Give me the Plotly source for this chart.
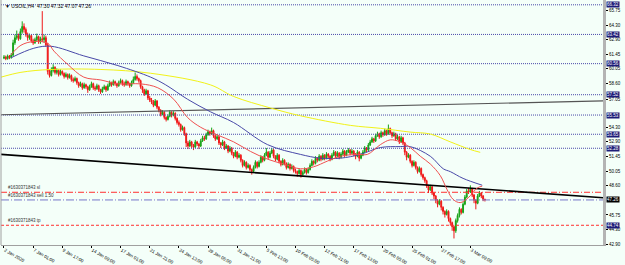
import plotly.graph_objects as go

# ---------------- data ----------------
first_open = 61.10
close = [
    61.20, 61.05, 61.30, 61.15, 61.40, 62.60, 63.10, 63.30, 63.00, 63.70,
    64.20, 63.90, 63.40, 63.10, 63.30, 62.80, 62.60, 62.90, 63.20, 62.70,
    63.00, 62.90, 63.10, 62.40, 59.80, 59.40, 59.90, 60.20, 59.70, 59.90,
    59.50, 59.80, 59.60, 59.30, 59.50, 59.20, 59.40, 59.00, 58.90, 59.10,
    58.70, 58.40, 58.60, 58.20, 58.50, 58.30, 58.00, 58.30, 58.60, 58.20,
    58.10, 58.40, 58.00, 57.80, 58.10, 58.30, 58.00, 58.40, 58.70, 58.50,
    58.80, 58.60, 58.40, 58.70, 58.90, 58.60, 58.50, 58.80, 58.60, 58.40,
    58.70, 59.00, 59.30, 59.10, 58.90, 58.30, 58.00, 57.60, 57.90, 57.20,
    57.00, 56.80, 56.50, 56.90, 56.30, 56.00, 55.60, 55.80, 55.30, 55.10,
    55.40, 55.80, 55.50, 55.70, 55.20, 54.80, 54.60, 54.10, 54.30, 53.70,
    52.80, 52.50, 52.90, 52.60, 52.40, 52.90, 52.70, 52.50, 53.00, 53.30,
    53.20, 53.60, 53.90, 53.70, 54.00, 53.50, 53.20, 53.40, 52.80, 52.60,
    52.90, 52.30, 52.50, 52.00, 52.30, 51.80, 51.50, 51.90, 51.40, 51.60,
    51.10, 50.60, 50.90, 50.40, 50.60, 50.20, 50.00, 50.40, 50.90, 50.50,
    50.90, 51.40, 51.10, 51.60, 51.90, 51.40, 51.80, 52.10, 51.50, 51.20,
    51.60, 51.00, 50.70, 51.10, 50.80, 50.40, 50.70, 50.30, 50.50, 50.10,
    50.00, 49.80, 50.10, 49.70, 49.90, 50.20, 49.90, 50.20, 50.60, 51.00,
    50.80, 51.30, 51.10, 51.50, 51.20, 51.60, 51.30, 51.70, 51.50, 51.20,
    51.60, 51.90, 51.50, 51.80, 51.40, 51.70, 52.00, 51.60, 51.90, 52.10,
    51.80, 52.00, 51.70, 51.50, 51.90, 51.30, 51.60, 51.90, 52.30, 52.10,
    52.60, 52.90, 53.20, 53.00, 53.50, 53.70, 53.40, 53.80, 53.60, 54.00,
    53.70, 54.20, 53.80, 53.50, 53.70, 53.20, 53.40, 52.90, 53.30, 52.80,
    51.90, 51.40, 51.60, 51.00, 50.60, 50.90, 50.40, 50.00, 50.30, 49.70,
    49.40, 49.10, 48.60, 48.20, 48.50, 47.90, 47.60, 47.20, 46.80, 47.10,
    46.50, 46.10, 45.80, 46.10, 45.40, 45.00, 44.60, 44.20, 45.20, 45.70,
    46.30, 46.00, 46.80, 47.50, 48.10, 48.00, 48.30, 47.70, 47.20, 46.90,
    47.60, 47.90, 47.60, 47.30, 47.26,
]
high = [
    61.40, 61.35, 61.45, 61.40, 61.60, 62.90, 63.40, 63.80, 63.50, 64.00,
    64.70, 64.50, 64.10, 63.60, 63.50, 63.40, 63.00, 63.10, 63.50, 63.30,
    63.20, 65.70, 63.40, 63.30, 62.60, 60.00, 60.20, 60.50, 60.30, 60.10,
    60.00, 60.00, 59.90, 59.70, 59.70, 59.60, 59.60, 59.50, 59.20, 59.30,
    59.20, 58.80, 58.80, 58.70, 58.70, 58.60, 58.40, 58.50, 58.80, 58.70,
    58.40, 58.60, 58.50, 58.10, 58.30, 58.50, 58.40, 58.60, 58.90, 58.80,
    59.00, 58.90, 58.70, 58.90, 59.10, 59.00, 58.80, 59.00, 58.90, 58.70,
    58.90, 59.30, 59.70, 59.50, 59.20, 59.00, 58.40, 58.10, 58.10, 58.00,
    57.40, 57.20, 57.00, 57.10, 57.00, 56.40, 56.10, 56.00, 55.90, 55.40,
    55.60, 56.00, 55.90, 55.90, 55.80, 55.30, 55.00, 54.70, 54.50, 54.40,
    53.80, 53.00, 53.10, 53.00, 52.70, 53.10, 53.00, 52.80, 53.20, 53.50,
    53.50, 53.80, 54.10, 54.00, 54.30, 54.10, 53.60, 53.60, 53.50, 52.90,
    53.10, 53.00, 52.70, 52.60, 52.50, 52.40, 51.90, 52.10, 52.00, 51.80,
    51.70, 51.20, 51.10, 51.00, 50.80, 50.70, 50.30, 50.60, 51.10, 51.00,
    51.10, 51.60, 51.50, 51.80, 52.30, 52.00, 52.00, 52.30, 52.20, 51.60,
    51.80, 51.70, 51.10, 51.30, 51.20, 50.90, 50.90, 50.80, 50.70, 50.60,
    50.30, 50.10, 50.30, 50.20, 50.10, 50.40, 50.30, 50.40, 50.80, 51.20,
    51.10, 51.50, 51.40, 51.70, 51.60, 51.80, 51.70, 51.90, 51.80, 51.60,
    51.80, 52.10, 52.00, 52.00, 51.90, 51.90, 52.20, 52.10, 52.10, 52.30,
    52.20, 52.20, 52.10, 51.80, 52.10, 52.00, 51.80, 52.10, 52.50, 52.40,
    52.80, 53.10, 53.40, 53.30, 53.70, 53.90, 53.80, 54.00, 53.90, 54.20,
    54.10, 54.60, 54.30, 53.90, 53.90, 53.80, 53.60, 53.50, 53.50, 53.40,
    52.90, 52.00, 51.80, 51.70, 51.10, 51.10, 51.00, 50.50, 50.50, 50.40,
    49.80, 49.50, 49.20, 48.70, 48.70, 48.60, 48.00, 47.70, 47.30, 47.30,
    47.20, 46.60, 46.20, 46.30, 46.20, 45.50, 45.10, 44.70, 45.40, 45.90,
    46.50, 46.40, 47.00, 47.70, 48.30, 48.40, 48.65, 48.40, 47.80, 47.30,
    47.80, 48.10, 48.00, 47.70, 47.32,
]
low = [
    61.00, 60.90, 60.95, 61.00, 61.05, 61.30, 62.40, 62.90, 62.80, 62.90,
    63.50, 63.60, 63.20, 62.80, 62.90, 62.60, 62.40, 62.50, 62.70, 62.50,
    62.50, 62.70, 62.60, 62.20, 59.50, 59.20, 59.30, 59.70, 59.50, 59.50,
    59.30, 59.40, 59.40, 59.10, 59.20, 59.00, 59.10, 58.80, 58.70, 58.80,
    58.50, 58.20, 58.30, 58.00, 58.10, 58.10, 57.70, 57.90, 58.20, 58.00,
    57.90, 58.00, 57.80, 57.60, 57.70, 58.00, 57.80, 57.90, 58.30, 58.30,
    58.40, 58.40, 58.20, 58.30, 58.60, 58.40, 58.30, 58.40, 58.40, 58.20,
    58.30, 58.60, 58.90, 58.90, 58.70, 58.10, 57.70, 57.40, 57.50, 57.00,
    56.80, 56.60, 56.30, 56.40, 56.10, 55.80, 55.40, 55.50, 55.10, 54.90,
    55.00, 55.30, 55.30, 55.40, 55.00, 54.60, 54.40, 53.90, 54.00, 53.50,
    52.40, 52.20, 52.40, 52.30, 52.10, 52.30, 52.50, 52.20, 52.40, 52.90,
    53.00, 53.10, 53.50, 53.50, 53.60, 53.30, 53.00, 53.10, 52.60, 52.30,
    52.50, 52.10, 52.20, 51.80, 51.90, 51.60, 51.30, 51.40, 51.20, 51.30,
    50.90, 50.40, 50.50, 50.20, 50.30, 50.00, 49.70, 49.90, 50.30, 50.30,
    50.40, 50.80, 50.90, 51.00, 51.50, 51.20, 51.30, 51.70, 51.30, 51.00,
    51.10, 50.80, 50.50, 50.60, 50.60, 50.20, 50.30, 50.10, 50.20, 49.90,
    49.80, 49.50, 49.70, 49.40, 49.60, 49.80, 49.70, 49.80, 50.10, 50.50,
    50.60, 50.70, 50.90, 51.00, 51.00, 51.10, 51.10, 51.20, 51.30, 51.00,
    51.10, 51.50, 51.30, 51.40, 51.20, 51.30, 51.60, 51.40, 51.50, 51.80,
    51.60, 51.70, 51.50, 51.20, 51.40, 51.00, 51.20, 51.50, 51.80, 51.90,
    52.00, 52.50, 52.80, 52.80, 52.90, 53.40, 53.20, 53.30, 53.40, 53.50,
    53.50, 53.60, 53.60, 53.30, 53.40, 53.00, 53.10, 52.70, 52.80, 52.60,
    51.60, 51.10, 51.30, 50.80, 50.40, 50.50, 50.20, 49.80, 49.90, 49.50,
    49.20, 48.90, 48.40, 47.90, 48.10, 47.70, 47.30, 46.90, 46.50, 46.70,
    46.20, 45.80, 45.50, 45.70, 45.10, 44.70, 44.20, 43.45, 44.00, 45.00,
    45.50, 45.80, 45.90, 46.70, 47.40, 47.80, 47.90, 47.50, 46.90, 46.30,
    46.80, 47.50, 47.40, 47.10, 47.07,
]

# moving averages read at sample bars
ma_red_x = [3.8, 9.3, 16.4, 24.1, 27.4, 35.1, 43.8, 53.2, 62.5, 75.1, 84.4, 93.2, 100.8, 108,
            117.3, 126, 135.3, 144.7, 153.4, 162.7, 169.9, 177.5, 184.7, 194, 199.5, 206.6, 212,
            217.5, 223, 228.5, 234, 239.5, 243.3, 246.6, 250.4, 254.8, 259.7, 262.5]
ma_red_y = [61.41, 62.36, 62.73, 62.54, 61.79, 60.47, 59.24, 58.96, 58.58, 58.58, 58.20, 57.07,
            55.28, 54.33, 53.57, 52.91, 51.97, 51.21, 50.74, 50.27, 50.46, 51.02, 51.50, 51.68,
            51.68, 52.63, 53.10, 52.91, 52.35, 51.50, 50.74, 49.60, 48.20, 47.26, 46.96, 47.43,
            48.38, 48.57]
ma_blue_x = [3.8, 16.4, 25.8, 43.8, 62.5, 80.5, 88.8, 100.8, 113.4, 126, 144.7, 162.7, 173.7,
             184.7, 195.6, 206.6, 217.5, 223, 234, 241.1, 245, 252, 262.5]
ma_blue_y = [61.13, 62.07, 62.26, 61.32, 60.37, 59.24, 58.48, 57.07, 55.84, 54.80, 52.63, 51.68,
             51.31, 51.31, 51.68, 52.35, 52.44, 52.44, 51.50, 50.27, 49.99, 49.33, 48.66]
ma_yellow_x = [-1.6, 9.3, 25.8, 53.2, 80.5, 113.4, 126, 146.3, 162.7, 190.1, 206.6, 223, 234,
               244.9, 255.9, 261.4]
ma_yellow_y = [59.24, 59.71, 59.99, 59.99, 59.62, 58.48, 57.35, 56.22, 55.46, 54.52, 54.23, 53.86,
               53.67, 52.91, 52.16, 51.88]

# trend lines (bar index, price)
trend_gray_x = [-1.64, 328.8]
trend_gray_y = [55.56, 56.92]
trend_black_x = [-1.64, 328.8]
trend_black_y = [51.68, 47.44]

# horizontal levels and order lines
levels = [66.32, 63.42, 60.56, 57.52, 55.53, 53.65, 52.28]
order_sl = 47.97
order_sell = 47.22
order_tp = 44.74
last_price = 47.26
order_id = "#1630371843"

xtick_idx = [0, 16, 32, 48, 64, 80, 96, 112, 128, 144, 160, 176, 192, 208, 224, 240, 256]
xtick_text = ["2 Jan 2020", "7 Jan 01:00", "9 Jan 17:00", "14 Jan 09:00", "17 Jan 01:00",
              "21 Jan 21:00", "24 Jan 13:00", "29 Jan 05:00", "31 Jan 21:00", "5 Feb 13:00",
              "10 Feb 05:00", "12 Feb 21:00", "17 Feb 13:00", "20 Feb 05:00", "25 Feb 01:00",
              "27 Feb 17:00", "3 Mar 09:00"]
ytick_vals = [65.75, 64.30, 62.90, 61.45, 60.05, 58.60, 57.05, 54.30, 52.90, 51.45,
              50.05, 48.60, 45.75, 44.30, 42.90]

# ---------------- figure ----------------
bars = list(range(len(close)))
opens = [first_open] + close[:-1]
X_RANGE = [-1.64, 328.8]
Y_RANGE = [42.81, 66.79]
BG = "#F4FFF9"
FONT = "Liberation Sans"

fig = go.Figure()

for lv in levels:
    fig.add_trace(go.Scatter(x=X_RANGE, y=[lv, lv], mode="lines",
                             line=dict(color="#4A4AAA", width=1, dash="1px,1px"),
                             hoverinfo="skip"))

fig.add_trace(go.Scatter(x=X_RANGE, y=[order_sl, order_sl], mode="lines",
                         line=dict(color="#FF3030", width=1, dash="6px,2px,1px,2px"), hoverinfo="skip"))
fig.add_trace(go.Scatter(x=X_RANGE, y=[order_sell, order_sell], mode="lines",
                         line=dict(color="#7878C8", width=1, dash="8px,2px,1px,2px"), hoverinfo="skip"))
fig.add_trace(go.Scatter(x=X_RANGE, y=[order_tp, order_tp], mode="lines",
                         line=dict(color="#FF3030", width=1, dash="3px,2px"), hoverinfo="skip"))

fig.add_trace(go.Scatter(x=trend_gray_x, y=trend_gray_y, mode="lines",
                         line=dict(color="#555555", width=1.2), hoverinfo="skip"))
fig.add_trace(go.Scatter(x=trend_black_x, y=trend_black_y, mode="lines",
                         line=dict(color="#000000", width=1.6), hoverinfo="skip"))

fig.add_trace(go.Candlestick(
    x=bars, open=opens, high=high, low=low, close=close,
    increasing=dict(line=dict(color="#17A317", width=1), fillcolor="#17A317"),
    decreasing=dict(line=dict(color="#F01818", width=1), fillcolor="#F01818"),
    whiskerwidth=0, hoverinfo="skip"))

fig.add_trace(go.Scatter(x=ma_yellow_x, y=ma_yellow_y, mode="lines", line_shape="spline",
                         line=dict(color="#F2F218", width=1), hoverinfo="skip"))
fig.add_trace(go.Scatter(x=ma_blue_x, y=ma_blue_y, mode="lines", line_shape="spline",
                         line=dict(color="#4848A8", width=1), hoverinfo="skip"))
fig.add_trace(go.Scatter(x=ma_red_x, y=ma_red_y, mode="lines", line_shape="spline",
                         line=dict(color="#F05050", width=1), hoverinfo="skip"))

ann = []
ann.append(dict(xref="paper", yref="paper", x=0.003, y=0.995, xanchor="left", yanchor="top",
                text="▼ USOIL,H4  47.30 47.32 47.07 47.26", showarrow=False,
                font=dict(family=FONT, size=5, color="#000000")))
for price, txt in [(order_sl, order_id + " sl"), (order_sell, order_id + " sell 1.50"),
                   (order_tp, order_id + " tp")]:
    ann.append(dict(xref="paper", yref="y", x=0.008, y=price, xanchor="left", yanchor="bottom",
                    yshift=0, text=txt, showarrow=False,
                    font=dict(family=FONT, size=4.5, color="#333333")))
for lv in levels + [order_tp]:
    ann.append(dict(xref="paper", yref="y", x=1, y=lv, xanchor="left", yanchor="middle",
                    xshift=3, text=f"{lv:.2f}", showarrow=False, bgcolor="#1C1C78",
                    borderpad=0, font=dict(family=FONT, size=4.5, color="#FFFFFF")))
ann.append(dict(xref="paper", yref="y", x=1, y=last_price, xanchor="left", yanchor="middle",
                xshift=3, text=f"{last_price:.2f}", showarrow=False, bgcolor="#000000",
                borderpad=0, font=dict(family=FONT, size=4.5, color="#FFFFFF")))

fig.update_layout(
    width=625, height=265,
    margin=dict(l=1, r=22, t=0, b=11),
    paper_bgcolor=BG, plot_bgcolor=BG,
    showlegend=False,
    annotations=ann,
    xaxis=dict(range=X_RANGE, rangeslider=dict(visible=False), showgrid=False, zeroline=False,
               tickvals=xtick_idx, ticktext=xtick_text, ticks="outside", ticklen=2,
               tickcolor="#000000", ticklabelposition="outside right",
               tickfont=dict(family=FONT, size=4.5, color="#000000"),
               showline=True, linecolor="#A0A0A0", linewidth=1),
    yaxis=dict(range=Y_RANGE, side="right", showgrid=False, zeroline=False,
               tickvals=ytick_vals, ticktext=[f"{v:.2f}" for v in ytick_vals],
               ticks="outside", ticklen=2, tickcolor="#000000",
               tickfont=dict(family=FONT, size=4.5, color="#000000"),
               showline=True, linecolor="#B4B4B4", linewidth=3),
    shapes=[dict(type="line", xref="paper", yref="paper", x0=0, x1=0, y0=0, y1=1,
                 line=dict(color="#A0A0A0", width=1))],
)

fig.write_html("out.html")
